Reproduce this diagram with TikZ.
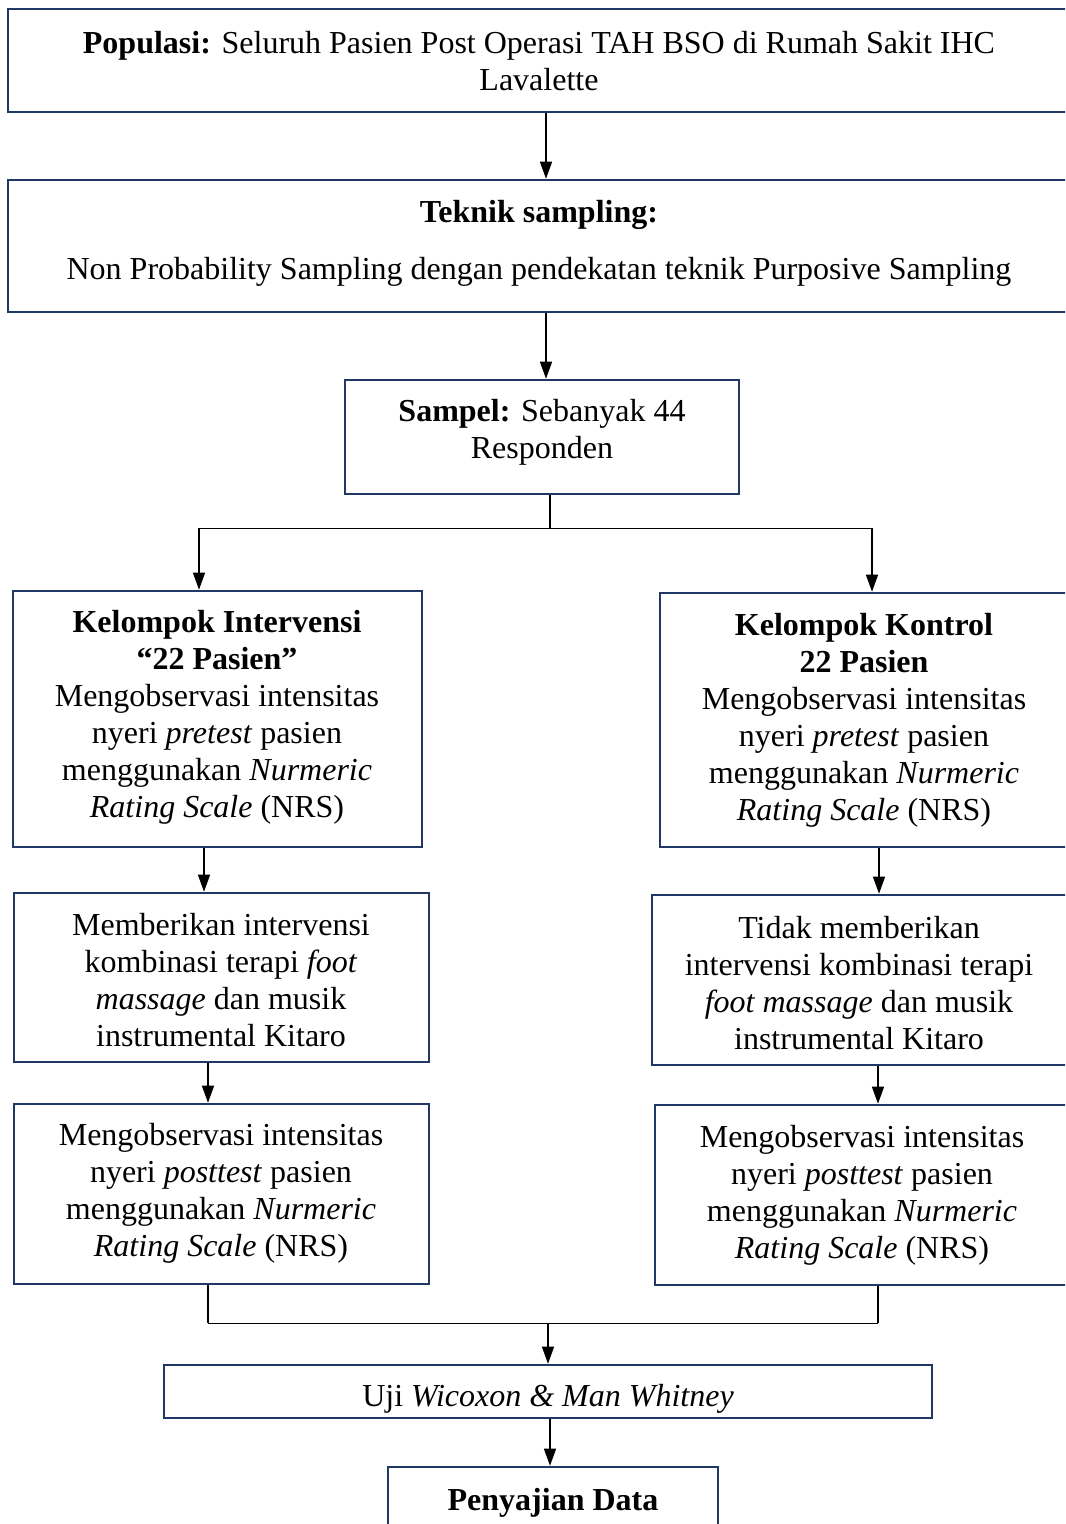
\documentclass[tikz,border=0pt]{standalone}
\usepackage{fontspec}
\setmainfont{Liberation Serif}
\usetikzlibrary{arrows.meta,fit,calc}
\definecolor{navy}{HTML}{1F3864}
\begin{document}
\begin{tikzpicture}[x=0.5pt,y=-0.5pt,
  box/.style={draw=navy,line width=1.3pt,inner sep=0pt,rectangle},
  txt/.style={align=center,inner sep=0pt,font=\fontsize{16}{18.5}\selectfont},
  conn/.style={draw=black,line width=0.65pt},
  arr/.style={conn,-{Triangle[length=8.5pt,width=6pt]}}]
\clip (0,0) rectangle (1065,1524);
% boxes
\node[box,fit={(8,9)(1072,112)}] (pop) {};
\node[box,fit={(8,180)(1072,312)}] (tek) {};
\node[box,fit={(345,380)(739,494)}] (sam) {};
\node[box,fit={(13,591)(422,847)}] (li1) {};
\node[box,fit={(660,593)(1072,847)}] (ri1) {};
\node[box,fit={(14,893)(429,1062)}] (li2) {};
\node[box,fit={(652,895)(1072,1065)}] (ri2) {};
\node[box,fit={(14,1104)(429,1284)}] (li3) {};
\node[box,fit={(655,1105)(1072,1285)}] (ri3) {};
\node[box,fit={(164,1365)(932,1418)}] (uji) {};
\node[box,fit={(388,1467)(718,1540)}] (pen) {};
% texts
\node[txt] (tpop) at (539,61) {\textbf{Populasi:} Seluruh Pasien Post Operasi TAH BSO di Rumah Sakit IHC\\Lavalette};
\node[txt] (ttek) at (539,243) {\textbf{Teknik sampling:}\\[10pt]Non Probability Sampling dengan pendekatan teknik Purposive Sampling};
\node[txt] (tsam) at (542,432) {\textbf{Sampel:} Sebanyak 44\\Responden};
\node[txt] (tli1) at (217,717) {\textbf{Kelompok Intervensi}\\\textbf{“22 Pasien”}\\Mengobservasi intensitas\\nyeri \textit{pretest} pasien\\menggunakan \textit{Nurmeric}\\\textit{Rating Scale} (NRS)};
\node[txt] (tri1) at (864,720) {\textbf{Kelompok Kontrol}\\\textbf{22 Pasien}\\Mengobservasi intensitas\\nyeri \textit{pretest} pasien\\menggunakan \textit{Nurmeric}\\\textit{Rating Scale} (NRS)};
\node[txt] (tli2) at (221,980) {Memberikan intervensi\\kombinasi terapi \textit{foot}\\\textit{massage} dan musik\\instrumental Kitaro};
\node[txt] (tri2) at (859,983) {Tidak memberikan\\intervensi kombinasi terapi\\\textit{foot massage} dan musik\\instrumental Kitaro};
\node[txt] (tli3) at (221,1193) {Mengobservasi intensitas\\nyeri \textit{posttest} pasien\\menggunakan \textit{Nurmeric}\\\textit{Rating Scale} (NRS)};
\node[txt] (tri3) at (862,1195) {Mengobservasi intensitas\\nyeri \textit{posttest} pasien\\menggunakan \textit{Nurmeric}\\\textit{Rating Scale} (NRS)};
\node[txt] (tuji) at (548,1399) {Uji \textit{Wicoxon \& Man Whitney}};
\node[txt] (tpen) at (553,1503) {\textbf{Penyajian Data}};
% connectors
\draw[arr] ([xshift=3pt]pop.south) -- ([xshift=3pt]pop.south |- tek.north);
\draw[arr] ([xshift=3pt]tek.south) -- ([xshift=3pt]tek.south |- sam.north);
\draw[conn] ([xshift=4pt]sam.south) -- ++(0,33) coordinate (split);
\draw[arr] (split) -| ([xshift=-9.25pt]li1.north);
\draw[arr] (split) -| ([xshift=3pt]ri1.north);
\draw[arr] ([xshift=-6.75pt]li1.south) -- ([xshift=-6.75pt]li1.south |- li2.north);
\draw[arr] ([xshift=6.5pt]ri1.south) -- ([xshift=6.5pt]ri1.south |- ri2.north);
\draw[arr] ([xshift=-6.75pt]li2.south) -- ([xshift=-6.75pt]li2.south |- li3.north);
\draw[arr] ([xshift=8pt]ri2.south) -- ([xshift=8pt]ri2.south |- ri3.north);
\draw[conn] ([xshift=-6.75pt]li3.south) -- ++(0,38) coordinate (mL);
\draw[conn] ([xshift=7.25pt]ri3.south) -- ++(0,37) coordinate (mR);
\draw[conn] (mL) -- (mR);
\draw[arr] (uji.north |- mL) -- (uji.north);
\draw[arr] ([xshift=-1.5pt]pen.north |- uji.south) -- ([xshift=-1.5pt]pen.north);
\end{tikzpicture}
\end{document}
